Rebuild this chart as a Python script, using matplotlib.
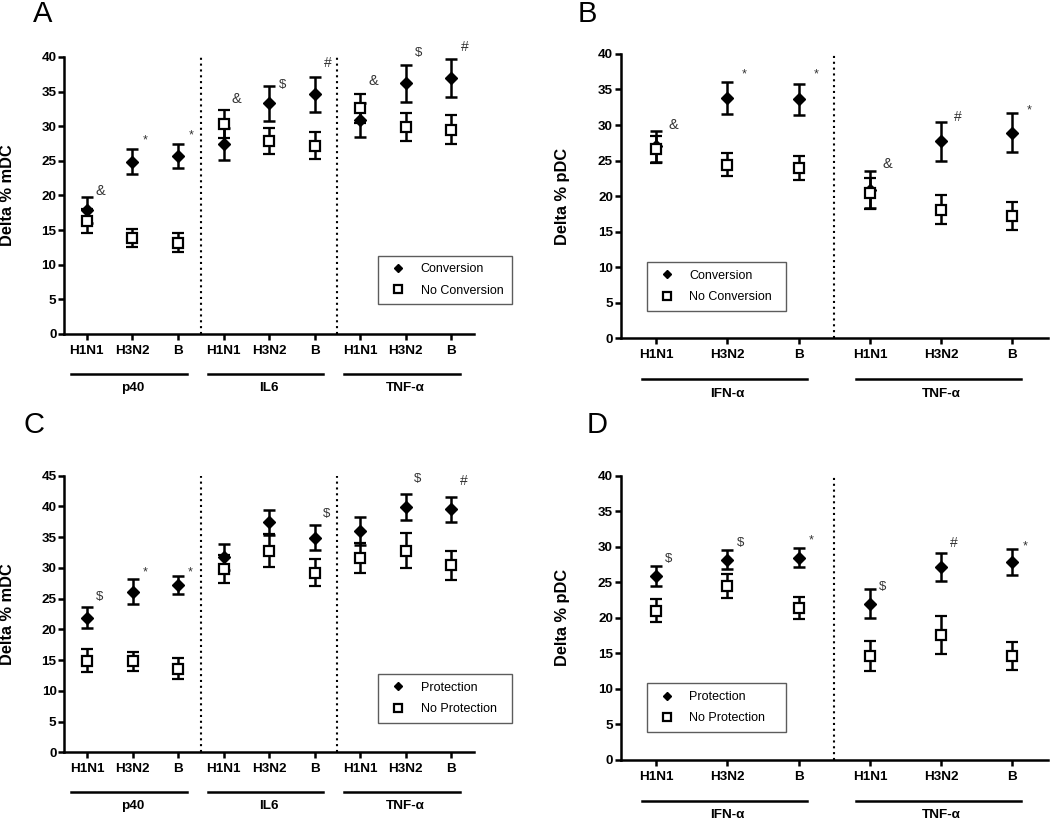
import matplotlib
matplotlib.use("Agg")
import matplotlib.pyplot as plt
from matplotlib.lines import Line2D
import numpy as np

plt.rcParams['font.family'] = ['Liberation Sans', 'DejaVu Sans']

strains = ['H1N1', 'H3N2', 'B']

# panel A - mDC, conversion
groups_a = ['p40', 'IL6', 'TNF-\u03b1']
conv_a = [17.9, 24.9, 25.7, 27.4, 33.3, 34.6, 30.9, 36.2, 37.0]
conv_a_err = [1.9, 1.8, 1.8, 2.3, 2.5, 2.5, 2.5, 2.7, 2.75]
noconv_a = [16.3, 13.9, 13.2, 30.3, 27.9, 27.2, 32.6, 29.9, 29.5]
noconv_a_err = [1.7, 1.3, 1.35, 2.0, 1.85, 1.9, 2.1, 2.0, 2.05]
marks_a = ['&', '*', '*', '&', '$', '#', '&', '$', '#']
marks_a_y = [20.6, 28.0, 28.7, 33.9, 36.0, 39.2, 36.6, 40.6, 41.4]

# panel B - pDC, conversion
groups_b = ['IFN-\u03b1', 'TNF-\u03b1']
conv_b = [27.0, 33.8, 33.6, 20.9, 27.7, 28.9]
conv_b_err = [2.2, 2.2, 2.2, 2.6, 2.7, 2.75]
noconv_b = [26.6, 24.4, 24.0, 20.4, 18.1, 17.2]
noconv_b_err = [1.9, 1.6, 1.7, 2.2, 2.0, 2.0]
marks_b = ['&', '*', '*', '&', '#', '*']
marks_b_y = [30.0, 37.1, 37.1, 24.5, 31.1, 32.0]

# panel C - mDC, protection
prot_c = [21.9, 26.1, 27.2, 31.8, 37.4, 34.9, 36.0, 39.9, 39.5]
prot_c_err = [1.75, 2.05, 1.5, 2.1, 2.0, 2.0, 2.2, 2.1, 2.1]
noprot_c = [14.9, 14.8, 13.6, 29.8, 32.8, 29.2, 31.6, 32.8, 30.4]
noprot_c_err = [1.9, 1.5, 1.7, 2.3, 2.65, 2.2, 2.5, 2.85, 2.3]
marks_c = ['$', '*', '*', '', '', '$', '', '$', '#']
marks_c_y = [25.2, 29.2, 29.2, 0, 0, 38.7, 0, 44.5, 44.1]

# panel D - pDC, protection
prot_d = [25.9, 28.2, 28.5, 22.0, 27.2, 27.9]
prot_d_err = [1.4, 1.3, 1.4, 2.0, 2.0, 1.8]
noprot_d = [21.0, 24.5, 21.4, 14.6, 17.6, 14.6]
noprot_d_err = [1.6, 1.7, 1.5, 2.15, 2.7, 1.95]
marks_d = ['$', '$', '*', '$', '#', '*']
marks_d_y = [28.3, 30.6, 30.9, 24.4, 30.6, 30.1]

mark_size = {'*': 9, '&': 10.5, '$': 9.5, '#': 10}


def panel(ax, ylabel, ymax, groups, y1, e1, y2, e2, lab1, lab2,
          marks, marks_y, leg_box, line_off, mark_dx, ylab_x):
    n = len(y1)
    x = np.arange(n)
    ax.errorbar(x, y1, yerr=e1, fmt='D', color='black', ms=5.8, mfc='black',
                mec='black', elinewidth=1.8, capsize=4.3, capthick=1.8, zorder=3)
    ax.errorbar(x, y2, yerr=e2, fmt='s', color='black', ms=6.6, mfc='white',
                mec='black', mew=1.6, elinewidth=1.8, capsize=4.3, capthick=1.8,
                zorder=4)
    for i in range(n):
        if marks[i]:
            ax.text(x[i] + mark_dx, marks_y[i], marks[i], ha='center', va='center',
                    fontsize=mark_size[marks[i]], color='#333333')
    for k in range(1, len(groups)):
        ax.axvline(3 * k - 0.5, color='black', ls=(0, (1, 1.8)), lw=1.5)

    ax.set_xlim(-0.5, n - 0.5)
    ax.set_ylim(0, ymax)
    ax.set_yticks(np.arange(0, ymax + 1, 5))
    ax.set_xticks(x)
    ax.set_xticklabels(strains * len(groups))
    for s in ['top', 'right']:
        ax.spines[s].set_visible(False)
    for s in ['left', 'bottom']:
        ax.spines[s].set_linewidth(1.8)
    ax.tick_params(axis='both', width=1.8, length=4, labelsize=9.7)
    ax.tick_params(axis='x', pad=4)
    ax.tick_params(axis='y', pad=1.5)
    for t in ax.get_xticklabels() + ax.get_yticklabels():
        t.set_fontweight('bold')
    ax.set_ylabel(ylabel, fontsize=11.8, fontweight='bold', va='center')
    ax.yaxis.set_label_coords(ylab_x, 0.5)

    # group lines and names under the strains
    for g, name in enumerate(groups):
        x0 = 3 * g + line_off[0]
        x1 = 3 * g + 2 + line_off[1]
        ax.plot([x0, x1], [-0.145, -0.145], color='black', lw=1.8,
                transform=ax.get_xaxis_transform(), clip_on=False)
        ax.text(3 * g + 1, -0.195, name, ha='center', va='center', fontsize=9.7,
                fontweight='bold', transform=ax.get_xaxis_transform())

    handles = [
        Line2D([], [], ls='none', marker='D', ms=4.4, mfc='black', mec='black'),
        Line2D([], [], ls='none', marker='s', ms=5.2, mfc='white', mec='black', mew=1.6),
    ]
    leg = ax.legend(handles, [lab1, lab2], loc='lower left', bbox_to_anchor=leg_box,
                    mode='expand', fontsize=9, frameon=True, fancybox=False,
                    borderpad=0.6, handletextpad=0.8, labelspacing=0.75,
                    handlelength=2.0, borderaxespad=0)
    leg.get_frame().set_edgecolor('#333333')
    leg.get_frame().set_linewidth(1.0)
    return ax


fig = plt.figure(figsize=(10.5, 8.21), dpi=100)

ax_a = fig.add_axes([0.061, 0.5932, 0.3905, 0.3374])
panel(ax_a, 'Delta % mDC', 40, groups_a, conv_a, conv_a_err, noconv_a, noconv_a_err,
      'Conversion', 'No Conversion', marks_a, marks_a_y,
      (0.766, 0.108, 0.327, 0.188), (-0.35, 0.19), 0.29, -0.139)

ax_b = fig.add_axes([0.5911, 0.588, 0.407, 0.3463])
panel(ax_b, 'Delta % pDC', 40, groups_b, conv_b, conv_b_err, noconv_b, noconv_b_err,
      'Conversion', 'No Conversion', marks_b, marks_b_y,
      (0.061, 0.097, 0.325, 0.19), (-0.2, 0.12), 0.24, -0.137)

ax_c = fig.add_axes([0.0612, 0.0837, 0.3902, 0.3369])
panel(ax_c, 'Delta % mDC', 45, groups_a, prot_c, prot_c_err, noprot_c, noprot_c_err,
      'Protection', 'No Protection', marks_c, marks_c_y,
      (0.766, 0.107, 0.327, 0.187), (-0.35, 0.19), 0.27, -0.139)

ax_d = fig.add_axes([0.5911, 0.0747, 0.407, 0.3456])
panel(ax_d, 'Delta % pDC', 40, groups_b, prot_d, prot_d_err, noprot_d, noprot_d_err,
      'Protection', 'No Protection', marks_d, marks_d_y,
      (0.061, 0.098, 0.325, 0.187), (-0.2, 0.12), 0.18, -0.137)

for letter, px, py in [('A', 43, 14), ('B', 587, 14), ('C', 34, 425), ('D', 597, 425)]:
    fig.text(px / 1050, 1 - py / 821, letter, fontsize=21, ha='center', va='center')

fig.savefig('out.png', dpi=100)
